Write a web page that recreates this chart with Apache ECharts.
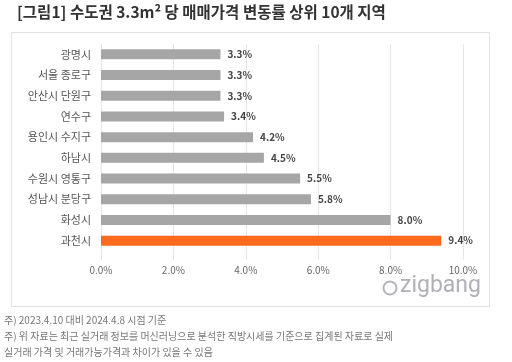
<!DOCTYPE html>
<html><head><meta charset="utf-8">
<script src="https://cdn.jsdelivr.net/npm/echarts@6/dist/echarts.min.js"></script>
<style>html,body{margin:0;padding:0;background:#fff}#c{width:512px;height:362px}</style>
</head><body><div id="c"></div>
<script>
const categories = ['광명시','서울 종로구','안산시 단원구','연수구','용인시 수지구','하남시','수원시 영통구','성남시 분당구','화성시','과천시'];
const values = [3.3,3.3,3.3,3.4,4.2,4.5,5.5,5.8,8.0,9.4];
const highlight = '과천시';
const title = '[그림1] 수도권 3.3m² 당 매매가격 변동률 상위 10개 지역';
const notes = ['주) 2023.4.10 대비 2024.4.8 시점 기준','주) 위 자료는 최근 실거래 정보를 머신러닝으로 분석한 직방시세를 기준으로 집계된 자료로 실제','실거래 가격 및 거래가능가격과 차이가 있을 수 있음'];
const FF = '"Noto Sans CJK KR", "Noto Sans", sans-serif';
const chart = echarts.init(document.getElementById('c'));
chart.setOption({
  animation:false,
  textStyle:{fontFamily:FF},
  graphic:[
    {type:'text',left:17,top:4,style:{text:title,font:'bold 15.5px '+FF,fill:'#333'}},
    {type:'rect',shape:{x:11.5,y:32.5,width:478,height:274},style:{fill:'none',stroke:'#e2e2e2',lineWidth:1},z:-1},
    {type:'circle',shape:{cx:390,cy:288,r:6.5},style:{fill:'none',stroke:'#b4b4bc',lineWidth:2}},
    {type:'text',x:400,y:275,style:{text:'zigbang',fontSize:23,fontFamily:'Roboto',fontWeight:'normal',fill:'#b0b0b8'}},
    {type:'text',left:4,top:315,style:{text:notes[0],font:'10px '+FF,fill:'#777'}},
    {type:'text',left:4,top:331,style:{text:notes[1],font:'10px '+FF,fill:'#777'}},
    {type:'text',left:4,top:347,style:{text:notes[2],font:'10px '+FF,fill:'#777'}}
  ],
  grid:{left:101,right:49,top:44,bottom:111,containLabel:false},
  xAxis:{type:'value',min:0,max:10,interval:2,
    axisLine:{show:false},
    axisTick:{show:true,length:9,lineStyle:{color:'#e6e6e6'}},
    splitLine:{lineStyle:{color:'#e6e6e6'}},
    axisLabel:{formatter:v=>v.toFixed(1)+'%',color:'#666',fontSize:10,margin:14}},
  yAxis:{type:'category',data:categories,inverse:true,
    axisLine:{show:false},axisTick:{show:false},
    axisLabel:{color:'#555',fontSize:11,margin:10}},
  series:[{type:'bar',barWidth:10,
    data:values.map((v,i)=>({value:v,itemStyle:{color:categories[i]===highlight?'#ff6a1c':'#a6a6a6'}})),
    label:{show:true,position:'right',distance:7,formatter:p=>p.value.toFixed(1)+'%',color:'#444',fontSize:10,fontWeight:'bold'}}]
});
</script></body></html>
